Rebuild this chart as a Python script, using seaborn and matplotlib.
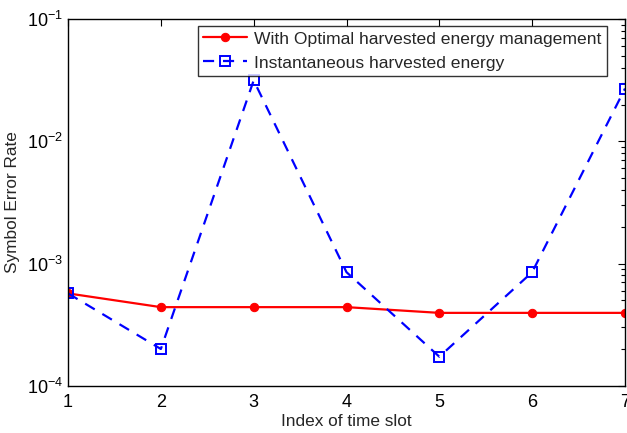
import matplotlib
matplotlib.use("Agg")
import matplotlib.pyplot as plt
import seaborn as sns
import pandas as pd
import numpy as np
from matplotlib.ticker import LogLocator, NullFormatter

slots = [1, 2, 3, 4, 5, 6, 7]
optimal_ser = [5.7e-4, 4.4e-4, 4.4e-4, 4.4e-4, 3.95e-4, 3.95e-4, 3.95e-4]
instant_ser = [5.7e-4, 2.0e-4, 3.15e-2, 8.5e-4, 1.73e-4, 8.5e-4, 2.7e-2]
label_opt = "With Optimal harvested energy management"
label_inst = "Instantaneous harvested energy"

sns.set_theme(style="white")
plt.rcParams['font.family'] = ['Liberation Sans', 'DejaVu Sans']
plt.rcParams['mathtext.fontset'] = 'custom'
plt.rcParams['mathtext.rm'] = 'Liberation Sans'

fig = plt.figure(figsize=(6.27, 4.33), dpi=100)
ax = fig.add_axes([0.1085, 0.109, 0.8883, 0.847])

df_opt = pd.DataFrame({"slot": slots, "ser": optimal_ser})
df_inst = pd.DataFrame({"slot": slots, "ser": instant_ser})

sns.lineplot(data=df_opt, x="slot", y="ser", ax=ax, color="#ff0000", lw=1.6,
             marker="o", markersize=6, markeredgecolor="#ff0000", label=label_opt)
sns.lineplot(data=df_inst, x="slot", y="ser", ax=ax, color="#0000ff", lw=1.6,
             linestyle=(0, (5, 4)), marker="s", markersize=7, markerfacecolor="none",
             markeredgecolor="#0000ff", markeredgewidth=1.4, label=label_inst)

ax.set_yscale("log")
ax.set_ylim(1e-4, 1e-1)
ax.set_xlim(1, 7)
ax.set_xticks(slots)
ax.yaxis.set_major_locator(LogLocator(base=10, numticks=10))
ax.yaxis.set_minor_locator(LogLocator(base=10, subs=np.arange(2, 10), numticks=10))
ax.yaxis.set_minor_formatter(NullFormatter())
ax.tick_params(axis="both", which="both", direction="in", top=True, right=True,
               labelsize=13, colors="black")
ax.tick_params(axis="both", which="major", length=5, width=0.8)
ax.tick_params(axis="y", which="minor", length=3, width=0.8)
ax.tick_params(axis="x", pad=6)
for s in ax.spines.values():
    s.set_color("black")
    s.set_linewidth(1.0)

ax.set_xlabel("Index of time slot", fontsize=12.4, labelpad=2)
ax.set_ylabel("Symbol Error Rate", fontsize=12.4, labelpad=5)

leg = ax.legend(loc="upper right", bbox_to_anchor=(0.9677, 0.981), fontsize=12.6,
                frameon=True, fancybox=False, edgecolor="black", borderpad=0.3,
                labelspacing=0.5, handlelength=2.5, handletextpad=0.45, borderaxespad=0)
leg.get_frame().set_linewidth(1.0)

fig.savefig("out.png", dpi=100)
